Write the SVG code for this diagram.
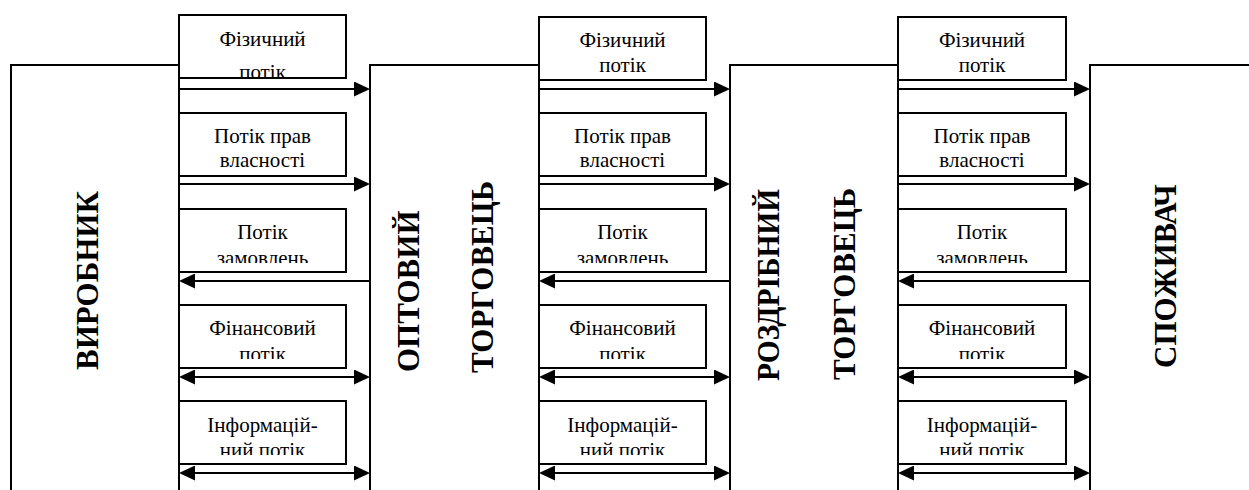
<svg xmlns="http://www.w3.org/2000/svg" width="1249" height="490" viewBox="0 0 1249 490">
<style>
.edge{fill:none;stroke:#000;stroke-width:2}
.box{fill:#fff;stroke:#000;stroke-width:2}
.lbl{font-family:'Liberation Serif','Times New Roman',serif;font-size:21px;text-anchor:middle;fill:#000}
.big{font-family:'Liberation Serif','Times New Roman',serif;font-size:31px;font-weight:bold;fill:#000}
.arr{fill:none;stroke:#000;stroke-width:2}
.r{marker-end:url(#ah)}
.d{marker-start:url(#ah);marker-end:url(#ah)}
</style>
<defs>
<marker id="ah" markerUnits="userSpaceOnUse" markerWidth="16" markerHeight="15" refX="8" refY="7.5" orient="auto-start-reverse" viewBox="0 0 16 15">
<path d="M0,0 L16,7.5 L0,15 z" fill="#000"/>
</marker>
<clipPath id="k11"><rect x="179" y="15" width="167" height="62"/></clipPath>
<clipPath id="k13"><rect x="179" y="209" width="167" height="54"/></clipPath>
<clipPath id="k14"><rect x="179" y="305" width="167" height="54"/></clipPath>
<clipPath id="k15"><rect x="179" y="401" width="167" height="54"/></clipPath>
<clipPath id="k23"><rect x="539" y="209" width="167" height="54"/></clipPath>
<clipPath id="k24"><rect x="539" y="305" width="167" height="54"/></clipPath>
<clipPath id="k25"><rect x="539" y="401" width="167" height="54"/></clipPath>
<clipPath id="k33"><rect x="898" y="209" width="168" height="54"/></clipPath>
<clipPath id="k34"><rect x="898" y="305" width="168" height="54"/></clipPath>
<clipPath id="k35"><rect x="898" y="401" width="168" height="54"/></clipPath>
</defs>
<rect width="1249" height="490" fill="#fff"/>

<g id="producer">
<path class="edge" d="M11,490 V65 H179 V490"/>
<text class="big" transform="translate(98,370) rotate(-90)">ВИРОБНИК</text>
</g>
<g id="wholesaler">
<path class="edge" d="M370,490 V65 H539 V490"/>
<text class="big" transform="translate(419,372) rotate(-90)">ОПТОВИЙ</text>
<text class="big" transform="translate(493,373) rotate(-90)">ТОРГОВЕЦЬ</text>
</g>
<g id="retailer">
<path class="edge" d="M730,490 V65 H898 V490"/>
<text class="big" transform="translate(779,381) rotate(-90)" textLength="192" lengthAdjust="spacingAndGlyphs">РОЗДРІБНИЙ</text>
<text class="big" transform="translate(855,380) rotate(-90)">ТОРГОВЕЦЬ</text>
</g>
<g id="consumer">
<path class="edge" d="M1090,490 V65 H1249"/>
<text class="big" transform="translate(1176,368) rotate(-90)">СПОЖИВАЧ</text>
</g>

<g id="flow-1-physical">
<rect class="box" x="179" y="15" width="167" height="63"/>
<g clip-path="url(#k11)"><text class="lbl" x="262.5" y="46">Фізичний</text><text class="lbl" x="262.5" y="79">потік</text></g>
</g>
<g id="flow-1-ownership">
<rect class="box" x="179" y="113" width="167" height="63"/>
<text class="lbl" x="262.5" y="143">Потік прав</text><text class="lbl" x="262.5" y="167">власності</text>
</g>
<g id="flow-1-orders">
<rect class="box" x="179" y="209" width="167" height="63"/>
<g clip-path="url(#k13)"><text class="lbl" x="262.5" y="239">Потік</text><text class="lbl" x="262.5" y="265">замовлень</text></g>
</g>
<g id="flow-1-financial">
<rect class="box" x="179" y="305" width="167" height="63"/>
<g clip-path="url(#k14)"><text class="lbl" x="262.5" y="335">Фінансовий</text><text class="lbl" x="262.5" y="361">потік</text></g>
</g>
<g id="flow-1-information">
<rect class="box" x="179" y="401" width="167" height="63"/>
<g clip-path="url(#k15)"><text class="lbl" x="262.5" y="432">Інформацій-</text><text class="lbl" x="262.5" y="457">ний потік</text></g>
</g>

<g id="flow-2-physical">
<rect class="box" x="539" y="17" width="167" height="63"/>
<text class="lbl" x="622.5" y="47">Фізичний</text><text class="lbl" x="622.5" y="72">потік</text>
</g>
<g id="flow-2-ownership">
<rect class="box" x="539" y="113" width="167" height="63"/>
<text class="lbl" x="622.5" y="143">Потік прав</text><text class="lbl" x="622.5" y="167">власності</text>
</g>
<g id="flow-2-orders">
<rect class="box" x="539" y="209" width="167" height="63"/>
<g clip-path="url(#k23)"><text class="lbl" x="622.5" y="239">Потік</text><text class="lbl" x="622.5" y="265">замовлень</text></g>
</g>
<g id="flow-2-financial">
<rect class="box" x="539" y="305" width="167" height="63"/>
<g clip-path="url(#k24)"><text class="lbl" x="622.5" y="335">Фінансовий</text><text class="lbl" x="622.5" y="361">потік</text></g>
</g>
<g id="flow-2-information">
<rect class="box" x="539" y="401" width="167" height="63"/>
<g clip-path="url(#k25)"><text class="lbl" x="622.5" y="432">Інформацій-</text><text class="lbl" x="622.5" y="457">ний потік</text></g>
</g>

<g id="flow-3-physical">
<rect class="box" x="898" y="17" width="168" height="63"/>
<text class="lbl" x="982" y="47">Фізичний</text><text class="lbl" x="982" y="72">потік</text>
</g>
<g id="flow-3-ownership">
<rect class="box" x="898" y="113" width="168" height="63"/>
<text class="lbl" x="982" y="143">Потік прав</text><text class="lbl" x="982" y="167">власності</text>
</g>
<g id="flow-3-orders">
<rect class="box" x="898" y="209" width="168" height="63"/>
<g clip-path="url(#k33)"><text class="lbl" x="982" y="239">Потік</text><text class="lbl" x="982" y="265">замовлень</text></g>
</g>
<g id="flow-3-financial">
<rect class="box" x="898" y="305" width="168" height="63"/>
<g clip-path="url(#k34)"><text class="lbl" x="982" y="335">Фінансовий</text><text class="lbl" x="982" y="361">потік</text></g>
</g>
<g id="flow-3-information">
<rect class="box" x="898" y="401" width="168" height="63"/>
<g clip-path="url(#k35)"><text class="lbl" x="982" y="432">Інформацій-</text><text class="lbl" x="982" y="457">ний потік</text></g>
</g>

<g id="connectors">
<line class="arr r" x1="179" y1="89" x2="362" y2="89"/>
<line class="arr r" x1="179" y1="184" x2="362" y2="184"/>
<line class="arr r" x1="370" y1="281" x2="187" y2="281"/>
<line class="arr d" x1="187" y1="377" x2="362" y2="377"/>
<line class="arr d" x1="187" y1="473" x2="362" y2="473"/>

<line class="arr r" x1="539" y1="89" x2="722" y2="89"/>
<line class="arr r" x1="539" y1="184" x2="722" y2="184"/>
<line class="arr r" x1="730" y1="281" x2="547" y2="281"/>
<line class="arr d" x1="547" y1="377" x2="722" y2="377"/>
<line class="arr d" x1="547" y1="473" x2="722" y2="473"/>

<line class="arr r" x1="898" y1="89" x2="1082" y2="89"/>
<line class="arr r" x1="898" y1="184" x2="1082" y2="184"/>
<line class="arr r" x1="1090" y1="281" x2="906" y2="281"/>
<line class="arr d" x1="906" y1="377" x2="1082" y2="377"/>
<line class="arr d" x1="906" y1="473" x2="1082" y2="473"/>
</g>
</svg>
